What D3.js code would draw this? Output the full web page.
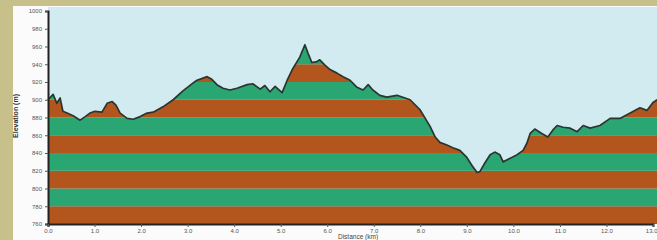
<!DOCTYPE html>
<html>
<head>
<meta charset="utf-8">
<script src="https://cdn.jsdelivr.net/npm/d3@7"></script>
<style>
  html, body { margin: 0; padding: 0; background: #c8c08a; }
  svg { display: block; }
</style>
</head>
<body>
<svg id="chart" width="657" height="240"></svg>
<script>
// profile
const distanceKm = [0.00, 0.11, 0.19, 0.26, 0.32, 0.41, 0.54, 0.69, 0.80, 0.90, 1.01, 1.16, 1.27, 1.38, 1.46, 1.55, 1.70, 1.83, 1.98, 2.13, 2.26, 2.47, 2.69, 2.90, 3.12, 3.20, 3.42, 3.52, 3.63, 3.76, 3.91, 4.06, 4.28, 4.40, 4.56, 4.66, 4.77, 4.88, 5.03, 5.14, 5.26, 5.41, 5.52, 5.59, 5.67, 5.78, 5.84, 5.95, 6.06, 6.21, 6.34, 6.49, 6.64, 6.77, 6.88, 6.98, 7.13, 7.28, 7.50, 7.78, 7.99, 8.21, 8.32, 8.42, 8.57, 8.70, 8.85, 9.00, 9.11, 9.22, 9.28, 9.39, 9.50, 9.60, 9.71, 9.78, 9.93, 10.08, 10.21, 10.29, 10.36, 10.46, 10.61, 10.74, 10.85, 10.94, 11.07, 11.22, 11.37, 11.50, 11.65, 11.86, 12.08, 12.29, 12.51, 12.72, 12.87, 13.00, 13.09];
const elevationM = [900, 906, 896, 902, 887, 885, 882, 877, 881, 885, 887, 886, 896, 898, 894, 885, 879, 878, 881, 885, 886, 892, 900, 910, 919, 922, 926, 923, 917, 913, 911, 913, 917, 918, 912, 916, 909, 915, 908, 922, 935, 948, 962, 952, 942, 943, 945, 939, 934, 930, 926, 922, 914, 911, 917, 911, 905, 903, 905, 900, 889, 870, 858, 852, 849, 846, 843, 835, 826, 818, 819, 829, 838, 841, 838, 830, 834, 838, 843, 851, 862, 867, 862, 858, 866, 871, 869, 868, 864, 871, 868, 871, 879, 879, 885, 891, 888, 897, 900];

const xTicks = [0, 1, 2, 3, 4, 5, 6, 7, 8, 9, 10, 11, 12, 13];
const yTicks = [760, 780, 800, 820, 840, 860, 880, 900, 920, 940, 960, 980, 1000];
const bandLevels = [760, 780, 800, 820, 840, 860, 880, 900, 920, 940, 960];

const svg = d3.select("#chart");
const W = 657, H = 240;
const plotLeft = 48, plotRight = 657, plotTop = 7, plotBottom = 224;

const x = d3.scaleLinear().domain([0, 13]).range([plotLeft, 653]);
const y = d3.scaleLinear().domain([760, 1000]).range([plotBottom, 11]);

const data = distanceKm.map((d, i) => ({ d: d, e: elevationM[i] }));

// white panel
svg.append("rect")
  .attr("x", 13).attr("y", 6)
  .attr("width", W - 13).attr("height", H - 6)
  .attr("fill", "#fbfbfb");

// sky
svg.append("rect")
  .attr("x", plotLeft).attr("y", plotTop)
  .attr("width", plotRight - plotLeft).attr("height", plotBottom - plotTop)
  .attr("fill", "#d2ebf0");

const area = d3.area()
  .x(d => x(d.d))
  .y0(plotBottom)
  .y1(d => y(d.e));

svg.append("clipPath").attr("id", "ground")
  .append("path")
  .attr("d", area(data));

// coloured bands under the profile
const bandTop = i => i < bandLevels.length - 1 ? y(bandLevels[i + 1]) : y(1000);
svg.append("g")
  .attr("clip-path", "url(#ground)")
  .selectAll("rect")
  .data(bandLevels)
  .enter()
  .append("rect")
  .attr("x", plotLeft)
  .attr("width", plotRight - plotLeft)
  .attr("y", (d, i) => bandTop(i))
  .attr("height", (d, i) => y(d) - bandTop(i))
  .attr("fill", (d, i) => i % 2 === 0 ? "#b3561e" : "#2aa673");

// profile line
svg.append("path")
  .datum(data)
  .attr("fill", "none")
  .attr("stroke", "#2b3530")
  .attr("stroke-width", 1.7)
  .attr("stroke-linejoin", "round")
  .attr("d", d3.line().x(d => x(d.d)).y(d => y(d.e)));

// axes
const yAxis = svg.append("g")
  .attr("transform", "translate(" + plotLeft + ",0)")
  .call(d3.axisLeft(y).tickValues(yTicks).tickSize(3).tickPadding(3).tickFormat(d3.format("d")));

const xAxis = svg.append("g")
  .attr("transform", "translate(0," + plotBottom + ")")
  .call(d3.axisBottom(x).tickValues(xTicks).tickSize(3).tickPadding(2).tickFormat(d3.format(".1f")));

[yAxis, xAxis].forEach(g => {
  g.selectAll("text")
    .attr("font-family", "Liberation Sans, Arial, sans-serif")
    .attr("font-size", 6)
    .attr("fill", "#555");
  g.selectAll("line").attr("stroke", "#555");
  g.select(".domain").attr("stroke", "#222").attr("stroke-width", 2);
});

// last label sits at the right edge, keep it inside
xAxis.selectAll(".tick text")
  .filter(d => d === 13)
  .attr("text-anchor", "end")
  .attr("dx", 4);

// axis titles
svg.append("text")
  .attr("transform", "translate(18,116) rotate(-90)")
  .attr("text-anchor", "middle")
  .attr("font-family", "Liberation Sans, Arial, sans-serif")
  .attr("font-size", 7)
  .attr("font-weight", "bold")
  .attr("fill", "#333")
  .text("Elevation (m)");

svg.append("text")
  .attr("x", 358).attr("y", 239)
  .attr("text-anchor", "middle")
  .attr("font-family", "Liberation Sans, Arial, sans-serif")
  .attr("font-size", 6.5)
  .attr("fill", "#444")
  .text("Distance (km)");
</script>
</body>
</html>
